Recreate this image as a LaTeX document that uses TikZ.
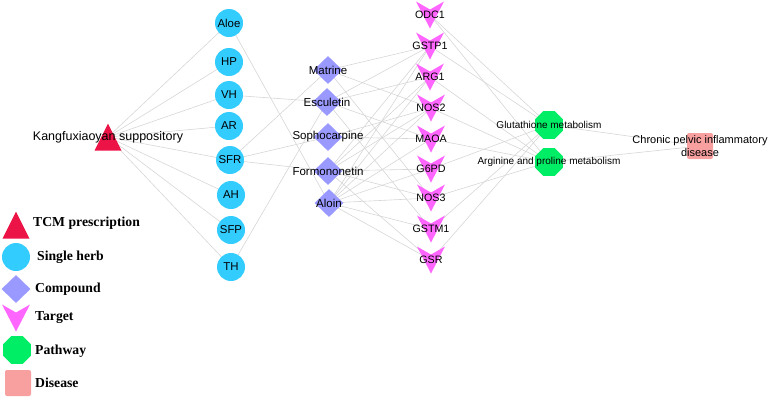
\documentclass[tikz,border=0pt]{standalone}
\usepackage{fontspec}
\setmainfont{Liberation Sans}
\newfontfamily\legfont{Liberation Serif}
\usetikzlibrary{shapes.geometric}
\pgfdeclarelayer{background}
\pgfsetlayers{background,main}
\definecolor{tcmcol}{HTML}{EC1446}
\definecolor{herbcol}{HTML}{33CCFF}
\definecolor{cpdcol}{HTML}{9999FF}
\definecolor{tgtcol}{HTML}{FF66FF}
\definecolor{pathcol}{HTML}{00EE66}
\definecolor{discol}{HTML}{F8A0A0}
\definecolor{edgecol}{HTML}{D6D6D6}
\begin{document}
\begin{tikzpicture}[x=1pt,y=-1pt,
 tcm/.style={rectangle, inner sep=0, minimum width=27pt, minimum height=27pt,
   path picture={\fill[tcmcol] (path picture bounding box.south west) -- (path picture bounding box.north) -- (path picture bounding box.south east) -- cycle;}},
 herb/.style={circle, fill=herbcol, inner sep=0, minimum size=28pt, font=\fontsize{11.4}{12}\selectfont},
 cpd/.style={diamond, fill=cpdcol, inner sep=0, minimum width=29pt, minimum height=28pt},
 tgt/.style={rectangle, inner sep=0, minimum width=28pt, minimum height=27pt,
   path picture={\fill[tgtcol] (path picture bounding box.north west) -- ([yshift=-8pt]path picture bounding box.north) -- (path picture bounding box.north east) -- (path picture bounding box.south) -- cycle;}},
 pw/.style={regular polygon, regular polygon sides=8, fill=pathcol, inner sep=0, minimum size=30pt},
 dis/.style={rectangle, rounded corners=2pt, fill=discol, minimum size=26pt, inner sep=0},
 edge/.style={draw=edgecol, line width=0.6pt},
 tcmlab/.style={font=\fontsize{12.5}{13}\selectfont, inner sep=0},
 cpdlab/.style={font=\fontsize{11.5}{12}\selectfont, inner sep=0},
 tgtlab/.style={font=\fontsize{10.7}{12}\selectfont, inner sep=0},
 pwlab/.style={font=\fontsize{10}{12}\selectfont, inner sep=0},
 dislab/.style={font=\fontsize{11}{13.5}\selectfont, inner sep=0, align=center},
 legtext/.style={font=\legfont\bfseries\fontsize{13.7}{15}\selectfont, inner sep=0, anchor=west}
]
\useasboundingbox (0,0) rectangle (768,405);

% TCM prescription
\node[tcm, label={[tcmlab]center:Kangfuxiaoyan suppository}] (kfx) at (108,137) {};

% herbs
\node[herb] (aloe) at (229,23) {Aloe};
\node[herb] (hp) at (229,62) {HP};
\node[herb] (vh) at (229,95) {VH};
\node[herb] (ar) at (229,126) {AR};
\node[herb] (sfr) at (230,160) {SFR};
\node[herb] (ah) at (231,195) {AH};
\node[herb] (sfp) at (231,230) {SFP};
\node[herb] (th) at (231,267) {TH};

% compounds
\node[cpd, label={[cpdlab]center:Matrine}] (matrine) at (328,70) {};
\node[cpd, label={[cpdlab]center:Esculetin}] (esculetin) at (327,102) {};
\node[cpd, label={[cpdlab]center:Sophocarpine}] (sophocarpine) at (328,137) {};
\node[cpd, label={[cpdlab]center:Formononetin}] (formononetin) at (328,171) {};
\node[cpd, label={[cpdlab]center:Aloin}] (aloin) at (329,203) {};

% targets
\node[tgt, label={[tgtlab]center:ODC1}] (odc1) at (430,15) {};
\node[tgt, label={[tgtlab]center:GSTP1}] (gstp1) at (430,46) {};
\node[tgt, label={[tgtlab]center:ARG1}] (arg1) at (430,77) {};
\node[tgt, label={[tgtlab]center:NOS2}] (nos2) at (431,108) {};
\node[tgt, label={[tgtlab]center:MAOA}] (maoa) at (431,139) {};
\node[tgt, label={[tgtlab]center:G6PD}] (g6pd) at (431,169) {};
\node[tgt, label={[tgtlab]center:NOS3}] (nos3) at (431,198) {};
\node[tgt, label={[tgtlab]center:GSTM1}] (gstm1) at (431,229) {};
\node[tgt, label={[tgtlab]center:GSR}] (gsr) at (431,260) {};

% pathways
\node[pw, label={[pwlab]center:Glutathione metabolism}] (glu) at (549,125) {};
\node[pw, label={[pwlab]center:Arginine and proline metabolism}] (argpro) at (549,162) {};

% disease
\node[dis, label={[dislab]center:Chronic pelvic inflammatory\\disease}] (cpid) at (700,146) {};

% legend
\node[tcm] (lg1) at (16,225) {};
\node[legtext] (lt1) at (33,223) {TCM prescription};
\node[herb] (lg2) at (16,257) {};
\node[legtext] (lt2) at (37,257) {Single herb};
\node[cpd] (lg3) at (16,289) {};
\node[legtext] (lt3) at (35,289) {Compound};
\node[tgt] (lg4) at (16,318) {};
\node[legtext] (lt4) at (35,318) {Target};
\node[pw] (lg5) at (17,350) {};
\node[legtext] (lt5) at (35,351) {Pathway};
\node[dis] (lg6) at (18,383) {};
\node[legtext] (lt6) at (35,383) {Disease};

\begin{pgfonlayer}{background}
 \foreach \h in {aloe,hp,vh,ar,sfr,ah,sfp,th}
   \draw[edge] (kfx.center) -- (\h.center);
 \draw[edge] (aloe.center) -- (aloin.center);
 \draw[edge] (vh.center) -- (esculetin.center);
 \draw[edge] (sfr.center) -- (matrine.center);
 \draw[edge] (sfr.center) -- (sophocarpine.center);
 \draw[edge] (sfr.center) -- (formononetin.center);
 \draw[edge] (th.center) -- (esculetin.center);
 \foreach \t in {gstp1,nos2,nos3}
   \draw[edge] (matrine.center) -- (\t.center);
 \foreach \t in {gstp1,arg1,maoa,gstm1}
   \draw[edge] (esculetin.center) -- (\t.center);
 \foreach \t in {maoa,nos2}
   \draw[edge] (sophocarpine.center) -- (\t.center);
 \foreach \t in {gstp1,arg1,nos2,g6pd,nos3,gsr}
   \draw[edge] (formononetin.center) -- (\t.center);
 \foreach \t in {gstp1,arg1,nos2,maoa,g6pd,nos3,gstm1,gsr}
   \draw[edge] (aloin.center) -- (\t.center);
 \foreach \t in {odc1,gstp1,g6pd,gstm1,gsr}
   \draw[edge] (\t.center) -- (glu.center);
 \foreach \t in {odc1,arg1,nos2,maoa,nos3}
   \draw[edge] (\t.center) -- (argpro.center);
 \draw[edge] (glu.center) -- (cpid.center);
 \draw[edge] (argpro.center) -- (cpid.center);
\end{pgfonlayer}
\end{tikzpicture}
\end{document}
